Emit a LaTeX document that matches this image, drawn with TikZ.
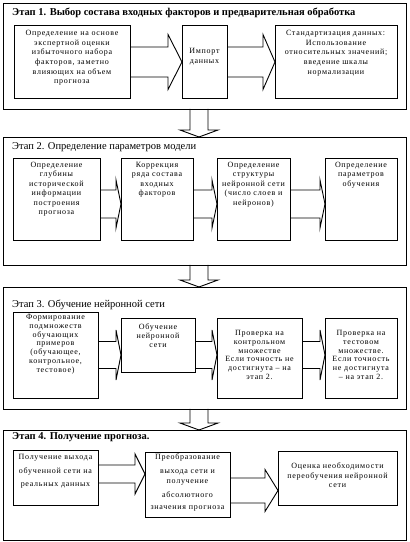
\documentclass[tikz,border=0pt]{standalone}
\usepackage{fontspec}
\setmainfont{Liberation Serif}
\newfontfamily\boxfont[LetterSpace=9]{Liberation Serif}
\usetikzlibrary{calc}
\tikzset{
  frame/.style={draw, line width=0.9pt, anchor=north west, inner sep=0pt, outer sep=0pt},
  box/.style={draw, line width=0.9pt, inner sep=0pt, outer sep=0pt},
  boxtxt/.style={anchor=north, align=center, inner sep=0pt, font=\boxfont\fontsize{8}{9.4}\selectfont},
  stagetitle/.style={anchor=base west, inner sep=0pt, font=\fontsize{10.5}{12}\selectfont},
  blockarrow/.style={line width=0.9pt, line join=miter},
}
% horizontal block arrow: from, to, Y centre, shaft half, head half, head length
\newcommand{\harrow}[6]{%
  \draw[blockarrow] let \p1=(#1.east), \p2=(#2.west) in
    (\x1,#3+#4) -- (\x2-#6,#3+#4) -- (\x2-#6,#3+#5) -- (\x2,#3)
    -- (\x2-#6,#3-#5) -- (\x2-#6,#3-#4) -- (\x1,#3-#4);}
% vertical block arrow between frames
\newcommand{\varrow}[2]{%
  \draw[blockarrow] let \p1=(#1.south), \p2=(#2.north) in
    (190,\y1) -- (190,\y2+7) -- (180,\y2+7) -- (199,\y2)
    -- (218,\y2+7) -- (208,\y2+7) -- (208,\y1);}
\begin{document}
\begin{tikzpicture}[x=1pt,y=1pt]
\useasboundingbox (0,0) rectangle (410,542);

% ---------- frames ----------
\node[frame, minimum width=403pt, minimum height=106pt] (s1) at (3,539) {};
\node[frame, minimum width=403pt, minimum height=128pt] (s2) at (3,405) {};
\node[frame, minimum width=403pt, minimum height=122pt] (s3) at (3,255) {};
\node[frame, minimum width=403pt, minimum height=110pt] (s4) at (3,112) {};

\varrow{s1}{s2}
\varrow{s2}{s3}
\varrow{s3}{s4}

% ---------- stage 1 ----------
\node[stagetitle, font=\fontsize{10.5}{12}\bfseries] (h1) at (12,526)
  {Этап 1. Выбор состава входных факторов и предварительная обработка};
\node[box, minimum width=116pt, minimum height=73pt] (b11) at (72,480.5) {};
\node[box, minimum width=45pt, minimum height=73pt] (b12) at (204.5,480.5) {};
\node[box, minimum width=122pt, minimum height=73pt] (b13) at (336,480.5) {};
\node[boxtxt, font=\boxfont\fontsize{8}{9.7}\selectfont] (t11) at ($(b11.north)+(0,-5)$)
  {Определение на основе\\экспертной оценки\\избыточного набора\\факторов, заметно\\влияющих на объем\\прогноза};
\node[boxtxt, font=\boxfont\fontsize{8}{9.7}\selectfont] (t12) at ($(b12.north)+(0,-23)$)
  {Импорт\\данных};
\node[boxtxt, font=\boxfont\fontsize{8}{9.7}\selectfont] (t13) at ($(b13.north)+(0,-5)$)
  {\makebox[100pt][l]{Стандартизация данных:}\\Использование\\относительных значений;\\введение шкалы\\нормализации};
\harrow{b11}{b12}{480}{15}{27.5}{14}
\harrow{b12}{b13}{480}{15}{27.5}{12}

% ---------- stage 2 ----------
\node[stagetitle] (h2) at (12,392) {Этап 2. Определение параметров модели};
\node[box, minimum width=87pt, minimum height=82pt] (b21) at (56.5,343) {};
\node[box, minimum width=72pt, minimum height=82pt] (b22) at (157,343) {};
\node[box, minimum width=73pt, minimum height=82pt] (b23) at (253.5,343) {};
\node[box, minimum width=72pt, minimum height=82pt] (b24) at (361,343) {};
\node[boxtxt] (t21) at ($(b21.north)+(0,-4)$)
  {Определение\\глубины\\исторической\\информации\\построения\\прогноза};
\node[boxtxt] (t22) at ($(b22.north)+(0,-4)$)
  {Коррекция\\ряда состава\\входных\\факторов};
\node[boxtxt] (t23) at ($(b23.north)+(0,-4)$)
  {Определение\\структуры\\нейронной сети\\(число слоев и\\нейронов)};
\node[boxtxt] (t24) at ($(b24.north)+(0,-4)$)
  {Определение\\параметров\\обучения};
\harrow{b21}{b22}{338}{14}{24}{5}
\harrow{b22}{b23}{338}{14}{24}{5}
\harrow{b23}{b24}{338}{14}{24}{5}

% ---------- stage 3 ----------
\node[stagetitle] (h3) at (12,234) {Этап 3. Обучение нейронной сети};
\node[box, minimum width=85pt, minimum height=86pt] (b31) at (55.5,187) {};
\node[box, minimum width=74pt, minimum height=54pt] (b32) at (158,197) {};
\node[box, minimum width=85pt, minimum height=80pt] (b33) at (259.5,184) {};
\node[box, minimum width=72pt, minimum height=80pt] (b34) at (361,184) {};
\node[boxtxt, font=\boxfont\fontsize{8}{8.8}\selectfont] (t31) at ($(b31.north)+(0,-2)$)
  {Формирование\\подмножеств\\обучающих\\примеров\\(обучающее,\\контрольное,\\тестовое)};
\node[boxtxt, font=\boxfont\fontsize{8}{8.8}\selectfont] (t32) at ($(b32.north)+(0,-6)$)
  {Обучение\\нейронной\\сети};
\node[boxtxt, font=\boxfont\fontsize{8}{8.8}\selectfont] (t33) at ($(b33.north)+(0,-12)$)
  {Проверка на\\контрольном\\множестве\\Если точность не\\достигнута – на\\этап 2.};
\node[boxtxt, font=\boxfont\fontsize{8}{8.8}\selectfont] (t34) at ($(b34.north)+(0,-12)$)
  {Проверка на\\тестовом\\множестве.\\Если точность\\не достигнута\\– на этап 2.};
\harrow{b31}{b32}{187}{13.5}{25}{5}
\harrow{b32}{b33}{187}{13.5}{25}{5}
\harrow{b33}{b34}{187}{13.5}{25}{5}

% ---------- stage 4 ----------
\node[stagetitle, font=\fontsize{10.5}{12}\bfseries] (h4) at (12,102) {Этап 4. Получение прогноза.};
\node[box, minimum width=85pt, minimum height=55pt] (b41) at (55.5,64.5) {};
\node[box, minimum width=85pt, minimum height=65pt] (b42) at (187.5,57.5) {};
\node[box, minimum width=119pt, minimum height=54pt] (b43) at (337.5,64) {};
\node[boxtxt] (t41) at ($(b41.north)+(0,-4)$)
  {Получение выхода\\[4.5pt]обученной сети на\\[3.5pt]реальных данных};
\node[boxtxt] (t42) at ($(b42.north)+(0,-2)$)
  {Преобразование\\[4.5pt]выхода сети и\\[0.5pt]получение\\[4.5pt]абсолютного\\[2pt]значения прогноза};
\node[boxtxt] (t43) at ($(b43.north)+(0,-12)$)
  {Оценка необходимости\\переобучения нейронной\\сети};
\harrow{b41}{b42}{68}{9}{20}{10}
\harrow{b42}{b43}{51.5}{12.5}{21}{13}

\end{tikzpicture}
\end{document}
